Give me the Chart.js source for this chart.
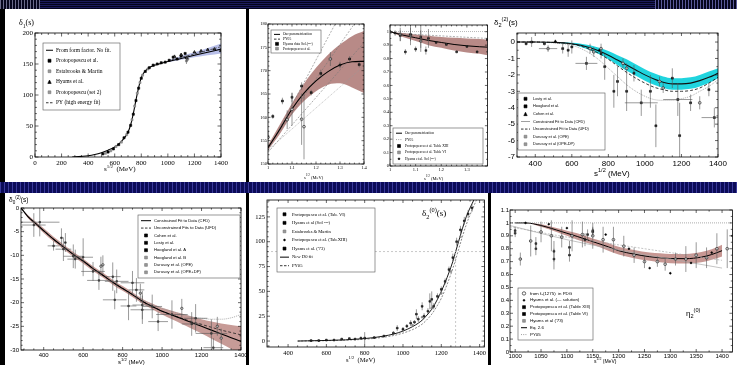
<!DOCTYPE html>
<html>
<head>
<meta charset="utf-8">
<script src="https://cdn.jsdelivr.net/npm/chart.js@4.4.1/dist/chart.umd.min.js"></script>
<style>
body { margin: 0; width: 737px; height: 365px; background: #000; position: relative; overflow: hidden; }
.strip { position: absolute; background: #0b0b58; }
.panel { position: absolute; background: #fff; }
canvas { position: absolute; }
.lbl { position: absolute; white-space: nowrap; color: #000; line-height: 1; }
.lbl sub, .lbl sup { font-size: 70%; }
</style>
</head>
<body>
<div class="strip" style="left:0;top:0;width:737px;height:9px;background:repeating-linear-gradient(180deg,#05051c 0 1px,#1c1c5c 1px 2px);"></div>
<div class="strip" style="left:0;top:0;width:40px;height:9px;background:repeating-linear-gradient(90deg,#6a6a8a 0 1px,#05051c 1px 3px);"></div>
<div class="strip" style="left:655px;top:0;width:82px;height:9px;background:repeating-linear-gradient(90deg,#5a5a9a 0 1px,#05051c 1px 3px);"></div>
<div class="strip" style="left:0;top:182px;width:737px;height:11px;background:repeating-linear-gradient(90deg,#3a3a9a 0 1px,#0b0b58 1px 4px);"></div>
<div class="panel" style="left:5px;top:9px;width:241px;height:173px;"></div>
<div class="panel" style="left:249px;top:9px;width:488px;height:173px;"></div>
<div class="panel" style="left:5px;top:193px;width:241px;height:172px;"></div>
<div class="panel" style="left:249px;top:193px;width:239px;height:172px;"></div>
<div class="panel" style="left:491px;top:193px;width:246px;height:172px;"></div>
<script>
// ---------- panel 1 : delta_1(s)
const p1XT = [0, 200, 400, 600, 800, 1000, 1200, 1400];
const p1YT = [0, 50, 100, 150, 200];
const p1FitX = [280, 350, 400, 450, 500, 550, 600, 650, 700, 720, 740, 760, 780, 800, 820, 850, 900, 950, 1000, 1100, 1200, 1300, 1400];
const p1FitY = [0, 1, 2, 4, 7, 11, 16, 25, 40, 52, 70, 92, 112, 128, 136, 143, 148, 151, 154, 159, 164, 169, 174];
const p1BandX = [1000, 1100, 1200, 1300, 1400];
const p1BandHi = [156, 163, 169, 176, 183];
const p1BandLo = [153, 157, 161, 164, 167];
const p1PyY = [155, 161, 166, 172, 178];
const p1ProtoX = [510, 550, 590, 630, 670, 700, 720, 740, 760, 780, 800, 830, 860, 890, 920, 950, 980, 1010, 1040, 1070, 1100, 1130];
const p1ProtoY = [5, 8, 13, 20, 31, 40, 51, 69, 91, 111, 127, 138, 144, 148, 150, 152, 153, 156, 161, 158, 163, 167];
const p1EstX = [530, 570, 610, 650, 690, 730, 750, 770, 790, 810, 850, 890];
const p1EstY = [6, 10, 17, 24, 36, 60, 82, 103, 120, 132, 142, 148];
const p1HyX = [1050, 1100, 1140, 1200, 1250, 1300, 1350, 1400];
const p1HyY = [162, 165, 160, 169, 171, 173, 174, 172];
const p1HyE = [2, 2, 4, 2, 2, 2, 2, 2];
const p1Set2X = [1140, 1150];
const p1Set2Y = [155, 158];
const p1Set2E = [5, 3];

// ---------- panel 2a : phase above 1 GeV
const p2aXT = [1, 1.1, 1.2, 1.3, 1.4];
const p2aYT = [150, 155, 160, 165, 170, 175, 180];
const p2aX = [1.0, 1.05, 1.1, 1.15, 1.2, 1.25, 1.3, 1.35, 1.4];
const p2aFit = [153.5, 157.5, 161.8, 165.2, 167.8, 169.8, 171.2, 171.9, 172.0];
const p2aHi = [154, 158.5, 163, 167.2, 170.6, 173.4, 175.6, 177.4, 178.5];
const p2aLo = [153, 156.5, 160.6, 163.5, 165.6, 167, 167.3, 166.4, 165.2];
const p2aPyX = [1.0, 1.4];
const p2aPyA = [153, 191.6];
const p2aPyB = [153.5, 183];
const p2aPyC = [152.5, 176];
const p2aPyD = [153, 171];
const p2aHyX = [1.02, 1.06, 1.1, 1.14, 1.18, 1.22, 1.3, 1.34, 1.38];
const p2aHyY = [160.2, 163.5, 164.3, 166.7, 165.3, 169.4, 171.2, 172.5, 171.3];
const p2aHyE = [0.5, 0.7, 1, 0.8, 0.6, 0.8, 0.7, 0.6, 0.6];
const p2aPrX = [1.0, 1.08, 1.1, 1.14, 1.15, 1.26];
const p2aPrY = [155.7, 159.5, 161.7, 159.6, 158, 172.5];
const p2aPrE = [1.5, 2, 3.5, 5.5, 7, 1.5];

// ---------- panel 2b : inelasticity above 1 GeV
const p2bXT = [1, 1.1, 1.2, 1.3];
const p2bYT = [0, 0.1, 0.2, 0.3, 0.4, 0.5, 0.6, 0.7, 0.8, 0.9, 1];
const p2bX = [1.0, 1.05, 1.1, 1.15, 1.2, 1.25, 1.3, 1.35, 1.38];
const p2bFit = [1.0, 0.975, 0.955, 0.935, 0.92, 0.905, 0.895, 0.888, 0.885];
const p2bHi = [1.0, 0.99, 0.98, 0.97, 0.96, 0.955, 0.95, 0.945, 0.94];
const p2bLo = [1.0, 0.96, 0.93, 0.9, 0.88, 0.86, 0.845, 0.835, 0.825];
const p2bPyX = [1.0, 1.38];
const p2bPyA = [1.0, 1.0];
const p2bPyB = [0.99, 0.95];
const p2bPtX = [1.02, 1.04, 1.06, 1.08, 1.1, 1.12, 1.14, 1.15, 1.18, 1.22, 1.26, 1.3, 1.34, 1.38];
const p2bPtY = [0.99, 0.97, 0.85, 0.98, 0.87, 0.96, 0.86, 0.95, 0.92, 0.905, 0.85, 0.89, 0.85, 0.94];
const p2bPtE = [0.02, 0.04, 0.02, 0.05, 0.02, 0.08, 0.03, 0.07, 0.01, 0.01, 0.01, 0.01, 0.01, 0.01];
const p2bOpX = [1.0, 1.04, 1.08, 1.12];
const p2bOpY = [1.0, 0.98, 0.97, 0.93];
const p2bOpE = [0.01, 0.05, 0.07, 0.08];

// ---------- panel 3 : delta_2^(2)
const p3XT = [400, 600, 800, 1000, 1200, 1400];
const p3YT = [-7, -6, -5, -4, -3, -2, -1, 0];
const p3X = [300, 400, 500, 600, 650, 700, 750, 800, 850, 900, 950, 1000, 1050, 1100, 1150, 1200, 1250, 1300, 1350, 1400];
const p3Cfd = [0, 0, -0.02, -0.1, -0.2, -0.35, -0.55, -0.8, -1.1, -1.4, -1.7, -2.0, -2.25, -2.45, -2.55, -2.55, -2.5, -2.35, -2.15, -1.9];
const p3Hi = [0, 0, 0, -0.05, -0.1, -0.2, -0.35, -0.55, -0.8, -1.05, -1.35, -1.65, -1.9, -2.1, -2.2, -2.2, -2.15, -2.0, -1.8, -1.6];
const p3Lo = [0, 0, -0.04, -0.15, -0.3, -0.5, -0.75, -1.05, -1.4, -1.75, -2.05, -2.35, -2.6, -2.8, -2.9, -2.9, -2.85, -2.7, -2.5, -2.2];
const p3Ufd = [0, 0, -0.03, -0.12, -0.25, -0.45, -0.7, -1.05, -1.45, -1.85, -2.2, -2.5, -2.75, -2.9, -3.0, -3.0, -2.95, -2.8, -2.5, -2.15];
const p3Ope = [0, 0, -0.05, -0.2, -0.4, -0.7, -1.1, -1.6, -2.1, -2.6, -3.0, -3.3, -3.5, -3.55, -3.55, -3.45, -3.3, -3.0, -2.7, -2.3];
const p3LoX = [350, 380, 450, 550, 580, 600, 680, 760, 780, 830, 850, 900, 940, 980, 1030, 1060, 1150, 1180, 1190, 1250, 1350, 1380];
const p3LoY = [-0.1, 0, -0.1, -0.4, -0.5, -0.3, -1.3, -0.7, -1.5, -3.0, -2.4, -3.0, -1.9, -3.7, -3.0, -5.1, -2.2, -3.5, -5.7, -3.7, -2.9, -4.6];
const p3LoE = [0.1, 0.3, 0.1, 0.3, 0.4, 0.4, 0.4, 0.3, 0.8, 1.0, 0.9, 1.2, 0.5, 0.8, 1.0, 1.3, 0.6, 1.0, 2.0, 0.5, 0.4, 0.6];
const p3LoXe = [0, 0, 0, 0, 0, 0, 60, 0, 0, 0, 0, 0, 0, 90, 0, 0, 0, 80, 0, 0, 0, 70];
const p3DuX = [470, 700, 720, 760, 880, 900, 1080, 1100, 1300];
const p3DuY = [-0.4, -0.4, -0.6, -0.4, -1.3, -1.6, -2.4, -2.8, -3.7];
const p3DuE = [0.2, 0.3, 0.3, 0.3, 0.3, 0.3, 0.3, 0.3, 0.4];
const p3DuXe = [50, 0, 0, 0, 0, 0, 0, 0, 0];
const p3CoX = [510, 750];
const p3CoY = [0.05, -0.5];

// ---------- panel 4 : delta_0^(2)
const p4XT = [400, 600, 800, 1000, 1200, 1400];
const p4YT = [-30, -25, -20, -15, -10, -5, 0];
const p4X = [285, 320, 360, 400, 450, 500, 550, 600, 650, 700, 750, 800, 850, 900, 950, 1000, 1050, 1100, 1150, 1200, 1250, 1300, 1350, 1400];
const p4Cfd = [0, -1.8, -3.3, -4.8, -6.6, -8.2, -9.8, -11.2, -12.8, -14.2, -15.7, -17.0, -18.3, -19.7, -20.8, -21.8, -22.6, -23.4, -24.2, -25.0, -25.8, -26.6, -27.4, -28.2];
const p4Hi = [0, -1.5, -2.9, -4.3, -6.1, -7.7, -9.3, -10.7, -12.3, -13.7, -15.2, -16.5, -17.8, -19.2, -20.2, -21.1, -21.7, -22.3, -22.9, -23.5, -24.0, -24.4, -24.7, -25.0];
const p4Lo = [0, -2.1, -3.7, -5.3, -7.1, -8.7, -10.3, -11.7, -13.3, -14.7, -16.2, -17.5, -18.8, -20.2, -21.4, -22.5, -23.5, -24.5, -25.5, -26.5, -27.6, -28.7, -29.8, -31];
const p4Ufd = [0, -1.8, -3.3, -4.8, -6.6, -8.2, -9.8, -11.2, -12.8, -14.2, -15.7, -17.0, -18.3, -19.7, -20.8, -21.8, -22.6, -23.3, -24.0, -24.6, -25.2, -25.8, -26.3, -26.8];
const p4Ope = [0, -1.8, -3.3, -4.8, -6.6, -8.2, -9.8, -11.2, -12.8, -14.2, -15.7, -17.0, -18.2, -19.4, -20.4, -21.2, -21.9, -22.5, -23.0, -23.3, -23.5, -23.5, -23.2, -22.5];
const p4PtX = [350, 380, 450, 490, 500, 510, 550, 560, 600, 650, 680, 750, 760, 770, 830, 850, 870, 900, 900, 950, 980, 1050, 1150, 1170, 1250, 1260];
const p4PtY = [-3.6, -3.0, -8.0, -6.3, -8.7, -7.3, -10.2, -10.8, -10.4, -13.4, -15.3, -14.5, -19.4, -15.5, -20.7, -15.8, -17.3, -20.5, -21.5, -20.8, -24.0, -22.5, -24.5, -23.3, -26.5, -29.5];
const p4PtE = [2.5, 3.0, 1.0, 2.0, 2.5, 2.0, 2.5, 2.0, 4.0, 2.0, 2.0, 3.0, 2.0, 2.5, 3.0, 2.5, 2.5, 3.0, 3.0, 2.5, 2.0, 3.0, 2.5, 3.0, 3.0, 2.0];
const p4PtXe = [60, 100, 30, 0, 40, 0, 50, 40, 50, 60, 60, 40, 60, 60, 40, 60, 40, 50, 60, 50, 50, 80, 50, 60, 80, 50];
const p4OpX = [690, 700, 890, 1100, 1280, 1300];
const p4OpY = [-12.3, -12.0, -18.0, -21.2, -25.0, -27.5];
const p4OpE = [2, 2, 2, 2, 2, 2];

// ---------- panel 5 : delta_2^(0)
const p5XT = [400, 600, 800, 1000, 1200, 1400];
const p5YT = [0, 25, 50, 75, 100, 125];
const p5X = [450, 500, 600, 700, 800, 850, 900, 950, 1000, 1050, 1080, 1100, 1120, 1150, 1180, 1200, 1220, 1240, 1260, 1275, 1290, 1310, 1330, 1350, 1370, 1390];
const p5Fit = [0, 0.2, 0.6, 1.2, 2.5, 3.5, 5, 7, 10, 14.5, 18, 21, 25, 32, 42, 50, 59, 69, 80, 90, 100, 113, 125, 134, 142, 150];
const p5Py = [0, 0.1, 0.4, 0.9, 1.8, 2.7, 3.9, 5.5, 8, 11.5, 14.5, 17, 20.5, 27, 36, 43, 52, 62, 73, 82, 92, 105, 117, 127, 136, 145];
const p5PtX = [520, 560, 600, 640, 680, 720, 750, 780, 800, 850, 900, 950, 970, 1000, 1020, 1040, 1060, 1070, 1080, 1100, 1110, 1130, 1140, 1150, 1160, 1180, 1200, 1220, 1240, 1260, 1280, 1300, 1320, 1340, 1360];
const p5PtY = [0.5, 0.5, 1, 1, 2, 2.5, 2, 3, 3, 3.5, 5, 8, 13, 12, 15, 18, 19, 27, 22, 35, 25, 30, 40, 42, 35, 45, 52, 60, 72, 84, 100, 112, 121, 128, 134];
const p5PtE = [0.5, 0.5, 0.5, 1, 1, 1, 1, 1, 6, 1, 1, 2, 3, 2, 2, 3, 2, 5, 3, 4, 3, 3, 8, 8, 3, 3, 3, 3, 3, 4, 4, 4, 4, 4, 4];
const p5EsX = [1000, 1050, 1100, 1150, 1200, 1250, 1300];
const p5EsY = [11, 16, 24, 33, 48, 70, 105];
const p5RefX = [290, 1425];
const p5RefY = [90, 90];
const p5VertX = [1275, 1275];
const p5VertY = [-6, 90];

// ---------- panel 6 : eta_2^(0)
const p6XT = [1000, 1050, 1100, 1150, 1200, 1250, 1300, 1350, 1400];
const p6YT = [0, 0.1, 0.2, 0.3, 0.4, 0.5, 0.6, 0.7, 0.8, 0.9, 1, 1.1];
const p6X = [1000, 1020, 1050, 1080, 1100, 1120, 1150, 1180, 1200, 1230, 1260, 1280, 1300, 1330, 1360, 1380, 1400];
const p6Fit = [1.0, 1.0, 0.98, 0.945, 0.92, 0.895, 0.855, 0.815, 0.785, 0.758, 0.738, 0.73, 0.724, 0.723, 0.735, 0.755, 0.785];
const p6Hi = [1.0, 1.0, 0.99, 0.96, 0.94, 0.92, 0.88, 0.845, 0.815, 0.79, 0.77, 0.765, 0.76, 0.76, 0.775, 0.795, 0.83];
const p6Lo = [1.0, 1.0, 0.97, 0.93, 0.9, 0.87, 0.83, 0.785, 0.755, 0.726, 0.706, 0.695, 0.688, 0.686, 0.695, 0.715, 0.74];
const p6PyX = [990, 1420];
const p6PyY = [1, 1];
const p6GX = [990, 1100, 1200, 1300, 1400];
const p6G1 = [0.98, 0.87, 0.79, 0.72, 0.65];
const p6G2 = [0.97, 0.89, 0.83, 0.77, 0.71];
const p6PdgX = [1010, 1030, 1050, 1070, 1090, 1110, 1130, 1150, 1170, 1190, 1210, 1230, 1250, 1275, 1290, 1310, 1330, 1350, 1370, 1390, 1410];
const p6PdgY = [0.72, 0.86, 0.93, 0.9, 0.89, 0.9, 0.91, 0.9, 0.87, 0.87, 0.82, 0.75, 0.7, 0.7, 0.68, 0.72, 0.72, 0.75, 0.73, 0.8, 0.8];
const p6PdgE = [0.05, 0.12, 0.08, 0.12, 0.08, 0.12, 0.1, 0.1, 0.1, 0.1, 0.08, 0.06, 0.05, 0.04, 0.05, 0.05, 0.1, 0.1, 0.08, 0.12, 0.15];
const p6PrX = [1000, 1000, 1040, 1040, 1075, 1075, 1105, 1105, 1135, 1140, 1150, 1150];
const p6PrY = [0.94, 0.92, 0.84, 0.8, 0.78, 0.72, 0.81, 0.75, 0.87, 0.91, 0.93, 0.94];
const p6PrE = [0.03, 0.03, 0.05, 0.05, 0.08, 0.08, 0.05, 0.05, 0.05, 0.04, 0.03, 0.03];
const p6HyX = [1020, 1065, 1100, 1175, 1220, 1260, 1300, 1340, 1380, 1420];
const p6HyY = [1.0, 0.99, 0.96, 0.91, 0.8, 0.65, 0.61, 0.69, 0.77, 0.9];

const SERIF = '"Liberation Serif", "DejaVu Serif", serif';
const SANS = '"Liberation Sans", Arial, sans-serif';
const BROWN = 'rgba(172, 118, 114, 0.85)';
const MK = {
    sq: { shape: 'rect', r: 1.5, fill: '#000', stroke: '#000' },
    gsq: { shape: 'rect', r: 1.4, fill: '#999', stroke: '#777' },
    tri: { shape: 'triangle', r: 1.7, fill: '#000', stroke: '#000' },
    circ: { shape: 'circle', r: 1.7, fill: '#fff', stroke: '#000' },
    dotm: { shape: 'circle', r: 0.9, fill: '#000', stroke: '#000' }
};

function pts(xs, ys) { return xs.map((x, i) => ({ x: x, y: ys[i] })); }

function curve(xs, ys, color, width, dash, straight) {
    return {
        data: pts(xs, ys), borderColor: color, borderWidth: width, borderDash: dash || [],
        pointRadius: 0, fill: false, order: 5,
        cubicInterpolationMode: straight ? 'default' : 'monotone', tension: 0
    };
}

function band(xs, hi, lo, color) {
    return [
        { data: pts(xs, hi), borderWidth: 0, borderColor: 'rgba(0,0,0,0)', pointRadius: 0, backgroundColor: color, fill: '+1', cubicInterpolationMode: 'monotone', order: 9 },
        { data: pts(xs, lo), borderWidth: 0, borderColor: 'rgba(0,0,0,0)', pointRadius: 0, fill: false, cubicInterpolationMode: 'monotone', order: 9 }
    ];
}

function marks(xs, ys, st, ey, ex, size) {
    return {
        data: pts(xs, ys), showLine: false, pointStyle: st.shape, pointRadius: (size || 1) * st.r,
        backgroundColor: st.fill, borderColor: st.stroke, borderWidth: 0.6, ey: ey, ex: ex, order: 1
    };
}

function drawSym(ctx, s, x, y, w) {
    ctx.save();
    if (s === 'line' || s === 'dash' || s === 'dot' || s === 'gline') {
        ctx.strokeStyle = (s === 'dot' || s === 'gline') ? '#888' : '#000';
        ctx.lineWidth = s === 'line' ? 1 : 0.8;
        ctx.setLineDash(s === 'dash' ? [2.5, 1.5] : s === 'dot' ? [1, 1.2] : []);
        ctx.beginPath(); ctx.moveTo(x, y); ctx.lineTo(x + w, y); ctx.stroke();
    } else {
        const st = MK[s], cx = x + w / 2, r = st.r;
        ctx.fillStyle = st.fill; ctx.strokeStyle = st.stroke; ctx.lineWidth = 0.6;
        ctx.beginPath();
        if (st.shape === 'rect') ctx.rect(cx - r, y - r, 2 * r, 2 * r);
        else if (st.shape === 'triangle') { ctx.moveTo(cx, y - r); ctx.lineTo(cx + r, y + r); ctx.lineTo(cx - r, y + r); ctx.closePath(); }
        else ctx.arc(cx, y, r, 0, Math.PI * 2);
        ctx.fill(); ctx.stroke();
    }
    ctx.restore();
}

function drawLegend(ctx, L, cv) {
    const x = L.box[0] - cv[0], y = L.box[1] - cv[1], w = L.box[2], h = L.box[3];
    ctx.save();
    ctx.fillStyle = '#fff'; ctx.fillRect(x, y, w, h);
    ctx.strokeStyle = '#555'; ctx.lineWidth = 0.6; ctx.strokeRect(x, y, w, h);
    const rh = (h - 4) / L.rows.length;
    ctx.font = L.size + 'px ' + L.font; ctx.textBaseline = 'middle'; ctx.textAlign = 'left';
    L.rows.forEach((r, i) => {
        const cy = y + 2 + rh * (i + 0.5);
        drawSym(ctx, r[0], x + 3, cy, L.sw);
        ctx.fillStyle = '#000'; ctx.fillText(r[1], x + 3 + L.sw + 3, cy);
    });
    ctx.restore();
}

function sideTicks(ctx, s, major, sub, a, horiz, len) {
    const step = (major[1] - major[0]) / sub;
    const k0 = Math.ceil((s.min - major[0]) / step - 1e-6), k1 = Math.floor((s.max - major[0]) / step + 1e-6);
    ctx.beginPath();
    for (let k = k0; k <= k1; k++) {
        const v = major[0] + k * step, p = s.getPixelForValue(v);
        const L = (k % sub === 0) ? len : len * 0.55;
        if (horiz) { ctx.moveTo(p, a.bottom); ctx.lineTo(p, a.bottom - L); ctx.moveTo(p, a.top); ctx.lineTo(p, a.top + L); }
        else { ctx.moveTo(a.left, p); ctx.lineTo(a.left + L, p); ctx.moveTo(a.right, p); ctx.lineTo(a.right - L, p); }
    }
    ctx.stroke();
}

function panelPlugin(o) {
    return {
        id: 'panel',
        afterDatasetsDraw(chart) {
            const { ctx, chartArea: a, scales } = chart;
            ctx.save();
            ctx.beginPath(); ctx.rect(a.left, a.top, a.right - a.left, a.bottom - a.top); ctx.clip();
            ctx.lineWidth = 0.6;
            chart.data.datasets.forEach(ds => {
                if (!ds.ey && !ds.ex) return;
                ctx.strokeStyle = '#555';
                ds.data.forEach((p, j) => {
                    const px = scales.x.getPixelForValue(p.x), py = scales.y.getPixelForValue(p.y);
                    ctx.beginPath();
                    if (ds.ey && ds.ey[j]) { ctx.moveTo(px, scales.y.getPixelForValue(p.y - ds.ey[j])); ctx.lineTo(px, scales.y.getPixelForValue(p.y + ds.ey[j])); }
                    if (ds.ex && ds.ex[j]) { ctx.moveTo(scales.x.getPixelForValue(p.x - ds.ex[j]), py); ctx.lineTo(scales.x.getPixelForValue(p.x + ds.ex[j]), py); }
                    ctx.stroke();
                });
            });
            ctx.restore();
        },
        afterDraw(chart) {
            const { ctx, chartArea: a, scales } = chart;
            ctx.save();
            ctx.strokeStyle = '#000'; ctx.lineWidth = 0.8;
            ctx.strokeRect(a.left, a.top, a.right - a.left, a.bottom - a.top);
            ctx.lineWidth = 0.6;
            sideTicks(ctx, scales.x, o.xt, o.xm, a, true, o.tl);
            sideTicks(ctx, scales.y, o.yt, o.ym, a, false, o.tl);
            ctx.restore();
            if (o.legend) drawLegend(ctx, o.legend, o.cv);
        }
    };
}

// cv: canvas [left, top, w, h]; area: plot [left, top, right, bottom] in page pixels
function plot(cv, area, o) {
    const el = document.createElement('canvas');
    el.width = cv[2]; el.height = cv[3];
    el.style.left = cv[0] + 'px'; el.style.top = cv[1] + 'px';
    el.style.width = cv[2] + 'px'; el.style.height = cv[3] + 'px';
    document.body.appendChild(el);
    o.cv = cv;
    const m = { l: area[0] - cv[0], t: area[1] - cv[1], r: cv[0] + cv[2] - area[2], b: cv[1] + cv[3] - area[3] };
    const tf = { family: o.font, size: o.size };
    const fmt = v => String(v);
    new Chart(el, {
        type: 'line',
        data: { datasets: o.datasets },
        options: {
            responsive: false, animation: false, events: [],
            layout: { padding: { left: 0, top: m.t, right: m.r, bottom: 0 } },
            plugins: { legend: { display: false }, tooltip: { enabled: false } },
            scales: {
                x: {
                    type: 'linear', min: o.xr[0], max: o.xr[1],
                    grid: { display: false, drawTicks: false }, border: { display: false },
                    ticks: { font: tf, color: '#000', padding: o.pad || 2, maxRotation: 0, autoSkip: false, callback: fmt },
                    afterBuildTicks: s => { s.ticks = o.xt.map(v => ({ value: v })); },
                    afterFit: s => { s.height = m.b; s.paddingLeft = 0; s.paddingRight = 0; }
                },
                y: {
                    type: 'linear', min: o.yr[0], max: o.yr[1],
                    grid: { display: false, drawTicks: false }, border: { display: false },
                    ticks: { font: tf, color: '#000', padding: o.pad || 2, autoSkip: false, callback: fmt },
                    afterBuildTicks: s => { s.ticks = o.yt.map(v => ({ value: v })); },
                    afterFit: s => { s.width = m.l; s.paddingTop = 0; s.paddingBottom = 0; }
                }
            }
        },
        plugins: [panelPlugin(o)]
    });
}

function label(html, x, y, size, family) {
    const d = document.createElement('div');
    d.className = 'lbl';
    d.innerHTML = html;
    d.style.left = x + 'px'; d.style.top = y + 'px';
    d.style.fontSize = size + 'px'; d.style.fontFamily = family;
    document.body.appendChild(d);
}

// ---------------- panel 1
plot([5, 9, 241, 173], [35, 33, 221, 157], {
    xr: [0, 1400], yr: [0, 200], xt: p1XT, yt: p1YT, xm: 4, ym: 5, tl: 3.5, font: SERIF, size: 7,
    datasets: [
        ...band(p1BandX, p1BandHi, p1BandLo, 'rgba(160, 170, 225, 0.75)'),
        curve(p1FitX, p1FitY, '#000', 1.1),
        curve(p1BandX, p1PyY, '#333', 0.8, [2.5, 1.5]),
        marks(p1ProtoX, p1ProtoY, MK.sq),
        marks(p1EstX, p1EstY, MK.gsq),
        marks(p1HyX, p1HyY, MK.tri, p1HyE),
        marks(p1Set2X, p1Set2Y, MK.gsq, p1Set2E)
    ],
    legend: {
        box: [43, 43, 77, 67], font: SERIF, size: 5.5, sw: 7,
        rows: [['line', 'From form factor. No fit.'], ['sq', 'Protopopescu et al.'], ['gsq', 'Estabrooks & Martin'],
               ['tri', 'Hyams et al.'], ['gsq', 'Protopopescu (set 2)'], ['dash', 'PY (high energy fit)']]
    }
});
label('δ<sub>1</sub>(s)', 19, 19, 8, SERIF);
label('s<sup>1/2</sup> &nbsp;(MeV)', 104, 165, 7, SERIF);

// ---------------- panel 2a
plot([249, 9, 130, 173], [268, 24, 364, 164], {
    xr: [1, 1.4], yr: [150, 180], xt: p2aXT, yt: p2aYT, xm: 5, ym: 5, tl: 2.5, font: SERIF, size: 4.5, pad: 1,
    datasets: [
        ...band(p2aX, p2aHi, p2aLo, BROWN),
        curve(p2aX, p2aFit, '#000', 1.1),
        curve(p2aPyX, p2aPyA, '#777', 0.6, [2, 1.5], true),
        curve(p2aPyX, p2aPyB, '#777', 0.6, [2, 1.5], true),
        curve(p2aPyX, p2aPyC, '#777', 0.6, [2, 1.5], true),
        curve(p2aPyX, p2aPyD, '#999', 0.6, [1, 1], true),
        marks(p2aHyX, p2aHyY, MK.sq, p2aHyE, null, 0.9),
        marks(p2aPrX, p2aPrY, MK.circ, p2aPrE, null, 0.8)
    ],
    legend: {
        box: [271, 30, 50, 23], font: SERIF, size: 3.6, sw: 6,
        rows: [['line', 'Our parametrization'], ['dash', 'PY05'], ['sq', 'Hyams data Sol.(---)'], ['gsq', 'Protopopescu et al.']]
    }
});
label('s<sup>1/2</sup> (MeV)', 304, 174, 4.5, SERIF);

// ---------------- panel 2b
plot([379, 9, 113, 173], [390, 25, 491, 166], {
    xr: [1, 1.38], yr: [0, 1.05], xt: p2bXT, yt: p2bYT, xm: 5, ym: 2, tl: 2.5, font: SERIF, size: 4.5, pad: 1,
    datasets: [
        ...band(p2bX, p2bHi, p2bLo, BROWN),
        curve(p2bX, p2bFit, '#000', 1),
        curve(p2bPyX, p2bPyA, '#888', 0.6, [1, 1], true),
        curve(p2bPyX, p2bPyB, '#777', 0.6, [2, 1.5], true),
        marks(p2bPtX, p2bPtY, MK.sq, p2bPtE, null, 0.8),
        marks(p2bOpX, p2bOpY, MK.circ, p2bOpE, null, 0.7)
    ],
    legend: {
        box: [393, 128, 90, 36], font: SERIF, size: 3.6, sw: 6,
        rows: [['line', 'Our parametrization'], ['dot', 'PY05'], ['sq', 'Protopopescu et al. Table XIII'],
               ['gsq', 'Protopopescu et al. Table VI'], ['dotm', 'Hyams et al. Sol (---)']]
    }
});
label('s<sup>1/2</sup> (MeV)', 424, 175, 4.5, SERIF);

// ---------------- panel 3
plot([492, 9, 245, 173], [517, 33, 718, 157], {
    xr: [300, 1400], yr: [-7, 0.55], xt: p3XT, yt: p3YT, xm: 4, ym: 2, tl: 3, font: SANS, size: 8,
    datasets: [
        ...band(p3X, p3Hi, p3Lo, 'rgba(20, 210, 220, 0.95)'),
        curve(p3X, p3Cfd, '#111', 1.1),
        curve(p3X, p3Ufd, '#222', 0.9, [3, 2]),
        curve(p3X, p3Ope, '#999', 0.8, [1, 1]),
        marks(p3LoX, p3LoY, MK.sq, p3LoE, p3LoXe, 0.9),
        marks(p3DuX, p3DuY, MK.circ, p3DuE, p3DuXe, 0.8),
        marks(p3CoX, p3CoY, MK.tri, null, null, 0.8)
    ],
    legend: {
        box: [518, 93, 87, 57], font: SANS, size: 3.9, sw: 9,
        rows: [['sq', 'Losty et al.'], ['sq', 'Hoogland et al.'], ['tri', 'Cohen et al.'],
               ['gline', 'Constrained Fit to Data (CFD)'], ['dash', 'Unconstrained Fit to Data (UFD)'],
               ['gsq', 'Durusoy et al. (OPE)'], ['gsq', 'Durusoy et al (OPE-DP)']]
    }
});
label('δ<sub>2</sub><sup>(2)</sup>(s)', 494, 17, 8, SANS);
label('s<sup>1/2</sup> (MeV)', 594, 168, 8, SANS);

// ---------------- panel 4
plot([5, 193, 241, 172], [21, 208, 241, 350], {
    xr: [285, 1400], yr: [-30, 0], xt: p4XT, yt: p4YT, xm: 4, ym: 5, tl: 3, font: SANS, size: 6,
    datasets: [
        ...band(p4X, p4Hi, p4Lo, 'rgba(185, 130, 125, 0.8)'),
        curve(p4X, p4Cfd, '#000', 1.1),
        curve(p4X, p4Ufd, '#222', 0.8, [3, 2]),
        curve(p4X, p4Ope, '#999', 0.8, [1, 1]),
        marks(p4PtX, p4PtY, MK.sq, p4PtE, p4PtXe, 0.7),
        marks(p4OpX, p4OpY, MK.circ, p4OpE, null, 0.7)
    ],
    legend: {
        box: [138, 215, 102, 63], font: SANS, size: 4.2, sw: 10,
        rows: [['line', 'Constrained Fit to Data (CFD)'], ['dash', 'Unconstrained Fits to Data (UFD)'], ['sq', 'Cohen et al.'],
               ['sq', 'Losty et al.'], ['sq', 'Hoogland et al. A'], ['gsq', 'Hoogland et al. B'],
               ['gsq', 'Durusoy et al. (OPE)'], ['gsq', 'Durusoy et al. (OPE+DP)']]
    }
});
label('δ<sub>0</sub><sup>(2)</sup>(s)', 9, 196, 6.5, SANS);
label('s<sup>1/2</sup> (MeV)', 118, 358, 6, SANS);

// ---------------- panel 5
plot([249, 193, 240, 172], [267, 200, 486, 347], {
    xr: [290, 1425], yr: [-6, 142], xt: p5XT, yt: p5YT, xm: 4, ym: 5, tl: 3, font: SERIF, size: 6.5,
    datasets: [
        curve(p5RefX, p5RefY, '#bbb', 0.8, [2, 2], true),
        curve(p5VertX, p5VertY, '#bbb', 0.8, [2, 2], true),
        curve(p5X, p5Fit, '#000', 0.9),
        curve(p5X, p5Py, '#555', 0.7, [2, 1.5]),
        marks(p5PtX, p5PtY, MK.sq, p5PtE, null, 0.8),
        marks(p5EsX, p5EsY, MK.gsq, null, null, 0.8)
    ],
    legend: {
        box: [277, 208, 98, 64], font: SERIF, size: 4.6, sw: 9,
        rows: [['sq', 'Protopopescu et al. (Tab. VI)'], ['sq', 'Hyams et al (Sol ---)'], ['gsq', 'Estabrooks & Martin'],
               ['dotm', 'Protopopescu et al. (Tab.XIII)'], ['sq', 'Hyams et al. (\'73)'], ['line', 'New D0 fit'], ['dash', 'PY05']]
    }
});
label('δ<sub>2</sub><sup>(0)</sup>(s)', 422, 207, 9, SERIF);
label('s<sup>1/2</sup> &nbsp;(MeV)', 346, 356, 6.5, SERIF);

// ---------------- panel 6
plot([491, 193, 246, 172], [510, 210, 733, 352], {
    xr: [990, 1420], yr: [0, 1.1], xt: p6XT, yt: p6YT, xm: 2, ym: 2, tl: 3, font: SANS, size: 6, pad: 1,
    datasets: [
        ...band(p6X, p6Hi, p6Lo, 'rgba(185, 125, 120, 0.8)'),
        curve(p6PyX, p6PyY, '#999', 0.8, [1, 1], true),
        curve(p6GX, p6G1, '#aaa', 0.7),
        curve(p6GX, p6G2, '#aaa', 0.7, [2, 1.5]),
        curve(p6X, p6Fit, '#000', 1),
        marks(p6PdgX, p6PdgY, MK.circ, p6PdgE, null, 0.8),
        marks(p6PrX, p6PrY, MK.sq, p6PrE, null, 0.8),
        marks(p6HyX, p6HyY, MK.dotm, null, null, 1)
    ],
    legend: {
        box: [518, 288, 75, 52], font: SANS, size: 4.4, sw: 6,
        rows: [['circ', 'from f₂(1275)  in PDG'], ['dotm', 'Hyams et al. (— solution)'], ['sq', 'Protopopescu et al. (Table XIII)'],
               ['sq', 'Protopopescu et al. (Table VI)'], ['gsq', 'Hyams et al (\'73)'], ['line', 'Eq. 2.6'], ['dot', 'PY05']]
    }
});
label('η<sub>2</sub><sup>(0)</sup>', 686, 308, 8, SANS);
label('s<sup>1/2</sup> (MeV)', 594, 358, 5, SANS);
</script>
</body>
</html>
